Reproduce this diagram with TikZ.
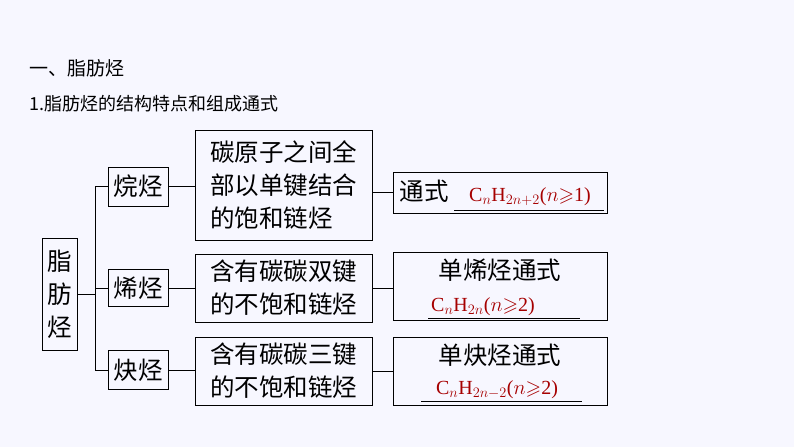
\documentclass[tikz,border=0pt]{standalone}
\usepackage{amssymb}
\usepackage{fontspec}
\setmainfont{Liberation Serif}
\newfontfamily\cjk{Noto Sans CJK SC}
\begin{document}
\begin{tikzpicture}[x=1pt,y=-1pt,
 bx/.style={draw,line width=1pt,inner sep=0pt},
 cj/.style={font=\cjk\fontsize{24.5}{33}\selectfont,align=left},
 ln/.style={line width=0.8pt},
 fm/.style={text=red!65!black,font=\fontsize{20}{22}\selectfont}]
\fill[blue!3] (0,0) rectangle (794,447);
\useasboundingbox (0,0) rectangle (794,447);
\node[anchor=west,font=\cjk\fontsize{19}{22}\selectfont] (t1) at (26,68) {一、脂肪烃};
\node[anchor=west,font=\cjk\fontsize{18}{22}\selectfont] (t2) at (26,104) {1.脂肪烃的结构特点和组成通式};
\node[bx,minimum width=35,minimum height=112,cj,align=center] (z) at (59.5,294) {脂\\肪\\烃};
\node[bx,minimum width=60,minimum height=39,cj] (a1) at (138,186.5) {烷烃};
\node[bx,minimum width=60,minimum height=37,cj] (a2) at (138,288) {烯烃};
\node[bx,minimum width=60,minimum height=39,cj] (a3) at (138,370) {炔烃};
\node[bx,minimum width=177,minimum height=110,cj] (b1) at (283.5,185) {碳原子之间全\\部以单键结合\\的饱和链烃};
\node[bx,minimum width=177,minimum height=68,cj] (b2) at (283.5,288) {含有碳碳双键\\的不饱和链烃};
\node[bx,minimum width=177,minimum height=68,cj] (b3) at (283.5,371) {含有碳碳三键\\的不饱和链烃};
\node[bx,minimum width=214,minimum height=41] (c1) at (500,192.5) {};
\node[bx,minimum width=214,minimum height=68] (c2) at (500,286) {};
\node[bx,minimum width=214,minimum height=68] (c3) at (500,371) {};
\node[cj,anchor=west] (c1t) at (396,191) {通式};
\node[fm,anchor=base] (f1) at (530,201) {C$_n$H$_{2n+2}$($n$$\geqslant$1)};
\draw[ln] (454,210) -- (604,210);
\node[cj] (c2t) at (500,270) {单烯烃通式};
\node[fm,anchor=base] (f2) at (483,311) {C$_n$H$_{2n}$($n$$\geqslant$2)};
\draw[ln] (428,318) -- (580,318);
\node[cj] (c3t) at (500,355) {单炔烃通式};
\node[fm,anchor=base] (f3) at (497,394) {C$_n$H$_{2n-2}$($n$$\geqslant$2)};
\draw[ln] (421,401) -- (582,401);
\coordinate (j) at (95,294);
\draw[ln] (z.east) -- (j);
\draw[ln] (95,186.5) -- (95,370);
\draw[ln] (95,186.5) -- (a1.west);
\draw[ln] (95,288) -- (a2.west);
\draw[ln] (95,370) -- (a3.west);
\draw[ln] (a1.east) -- (b1.west |- a1.east);
\draw[ln] (a2.east) -- (b2.west |- a2.east);
\draw[ln] (a3.east) -- (b3.west |- a3.east);
\draw[ln] (b1.east |- c1.west) -- (c1.west);
\draw[ln] (b2.east) -- (c2.west |- b2.east);
\draw[ln] (b3.east) -- (c3.west);
\end{tikzpicture}
\end{document}
